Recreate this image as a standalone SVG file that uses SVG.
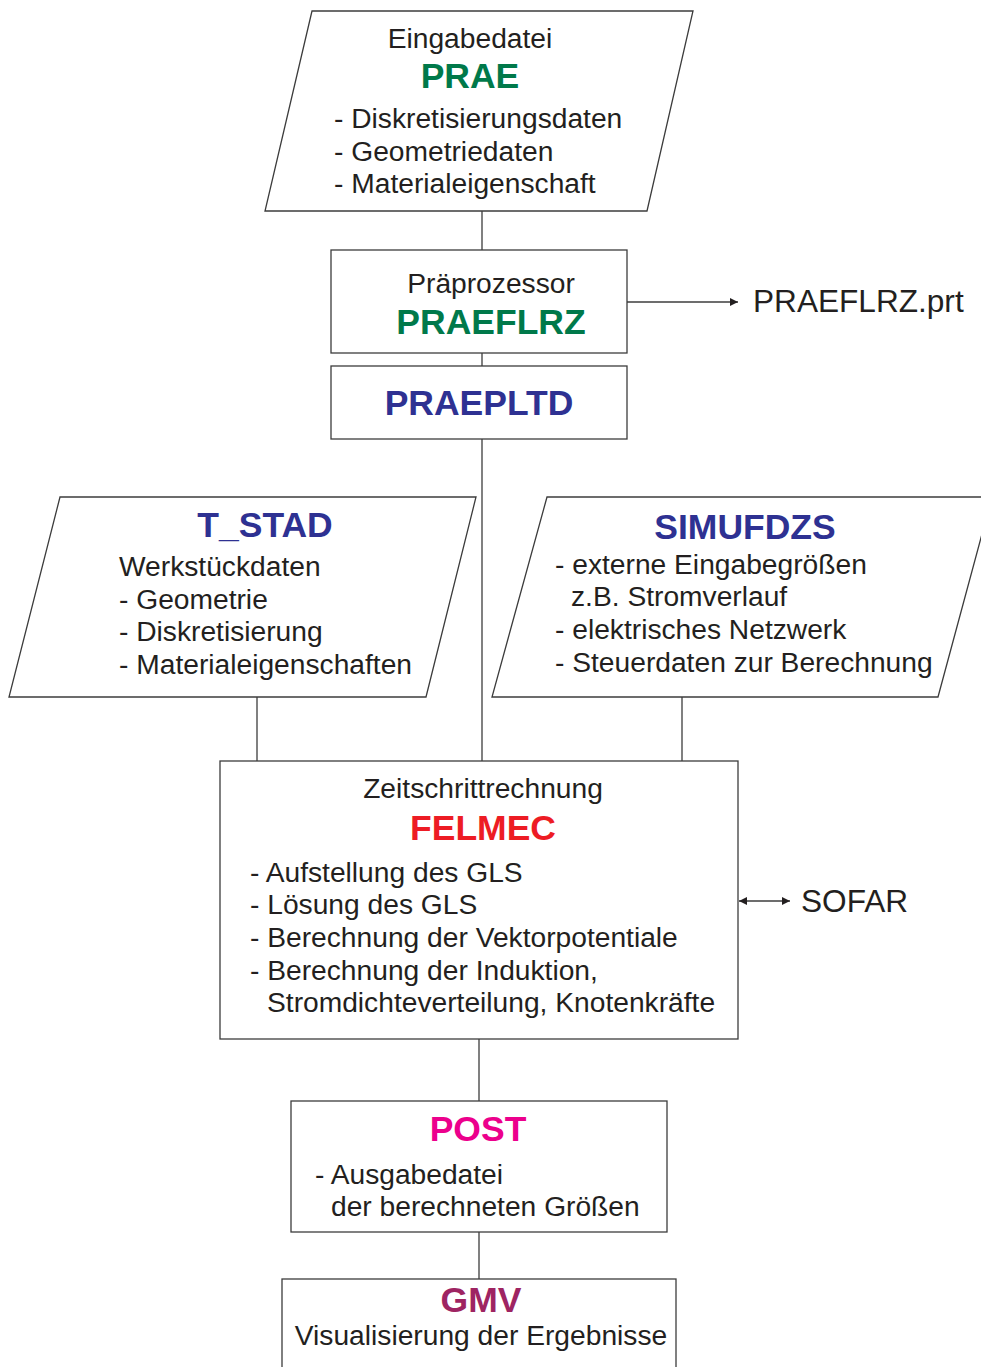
<svg xmlns="http://www.w3.org/2000/svg" width="981" height="1367" viewBox="0 0 981 1367">
  <defs>
    <marker id="arrow" viewBox="0 0 10 10" refX="10" refY="5" markerWidth="8" markerHeight="8" markerUnits="userSpaceOnUse" orient="auto-start-reverse">
      <path d="M0,0 L10,5 L0,10 z" fill="#231f20"/>
    </marker>
    <style>
      .shape { fill: #ffffff; stroke: #3c3c3c; stroke-width: 1.3; }
      .wire { fill: none; stroke: #3c3c3c; stroke-width: 1.3; }
      .txt { font-family: "Liberation Sans", Arial, sans-serif; font-size: 28.2px; fill: #231f20; }
      .side { font-family: "Liberation Sans", Arial, sans-serif; font-size: 31.6px; fill: #231f20; }
      .title { font-family: "Liberation Sans", Arial, sans-serif; font-size: 35.5px; font-weight: bold; text-anchor: middle; }
      .mid { text-anchor: middle; }
      .green { fill: #00794a; }
      .blue { fill: #2e3192; }
      .red { fill: #ed1c24; }
      .magenta { fill: #ec008c; }
      .purple { fill: #9e2462; }
    </style>
  </defs>

  <!-- connectors -->
  <g id="connectors">
    <line class="wire" x1="482" y1="211" x2="482" y2="250"/>
    <line class="wire" x1="482" y1="353" x2="482" y2="366"/>
    <line class="wire" x1="482" y1="439" x2="482" y2="761"/>
    <line class="wire" x1="257" y1="697" x2="257" y2="761"/>
    <line class="wire" x1="682" y1="697" x2="682" y2="761"/>
    <line class="wire" x1="479" y1="1039" x2="479" y2="1101"/>
    <line class="wire" x1="479" y1="1232" x2="479" y2="1279"/>
    <line class="wire" x1="627" y1="302" x2="738" y2="302" marker-end="url(#arrow)"/>
    <line class="wire" x1="739" y1="901" x2="790" y2="901" marker-start="url(#arrow)" marker-end="url(#arrow)"/>
  </g>

  <!-- input file PRAE -->
  <g id="prae">
    <polygon class="shape" points="312,11 693,11 647,211 265,211"/>
    <text class="txt mid" x="470" y="48">Eingabedatei</text>
    <text class="title green" x="470" y="88">PRAE</text>
    <text class="txt" x="334" y="128">- Diskretisierungsdaten</text>
    <text class="txt" x="334" y="161">- Geometriedaten</text>
    <text class="txt" x="334" y="193">- Materialeigenschaft</text>
  </g>

  <!-- preprocessor PRAEFLRZ -->
  <g id="praeflrz">
    <rect class="shape" x="331" y="250" width="296" height="103"/>
    <text class="txt mid" x="491" y="293">Präprozessor</text>
    <text class="title green" x="491" y="334">PRAEFLRZ</text>
  </g>

  <g id="praeflrz-prt">
    <text class="side" x="753" y="312">PRAEFLRZ.prt</text>
  </g>

  <!-- PRAEPLTD -->
  <g id="praepltd">
    <rect class="shape" x="331" y="366" width="296" height="73"/>
    <text class="title blue" x="479" y="415">PRAEPLTD</text>
  </g>

  <!-- workpiece data T_STAD -->
  <g id="t-stad">
    <polygon class="shape" points="60,497 476,497 426,697 9,697"/>
    <text class="title blue" x="265" y="537">T_STAD</text>
    <text class="txt" x="119" y="576">Werkstückdaten</text>
    <text class="txt" x="119" y="609">- Geometrie</text>
    <text class="txt" x="119" y="641">- Diskretisierung</text>
    <text class="txt" x="119" y="674">- Materialeigenschaften</text>
  </g>

  <!-- control data SIMUFDZS -->
  <g id="simufdzs">
    <polygon class="shape" points="547,497 992,497 938,697 492,697"/>
    <text class="title blue" x="745" y="539">SIMUFDZS</text>
    <text class="txt" x="555" y="574">- externe Eingabegrößen</text>
    <text class="txt" x="571" y="606">z.B. Stromverlauf</text>
    <text class="txt" x="555" y="639">- elektrisches Netzwerk</text>
    <text class="txt" x="555" y="672">- Steuerdaten zur Berechnung</text>
  </g>

  <!-- time step solver FELMEC -->
  <g id="felmec">
    <rect class="shape" x="220" y="761" width="518" height="278"/>
    <text class="txt mid" x="483" y="798">Zeitschrittrechnung</text>
    <text class="title red" x="483" y="840">FELMEC</text>
    <text class="txt" x="250" y="882">- Aufstellung des GLS</text>
    <text class="txt" x="250" y="914">- Lösung des GLS</text>
    <text class="txt" x="250" y="947">- Berechnung der Vektorpotentiale</text>
    <text class="txt" x="250" y="980">- Berechnung der Induktion,</text>
    <text class="txt" x="267" y="1012">Stromdichteverteilung, Knotenkräfte</text>
  </g>

  <g id="sofar">
    <text class="side" x="801" y="912">SOFAR</text>
  </g>

  <!-- postprocessor POST -->
  <g id="post">
    <rect class="shape" x="291" y="1101" width="376" height="131"/>
    <text class="title magenta" x="478" y="1141">POST</text>
    <text class="txt" x="315" y="1184">- Ausgabedatei</text>
    <text class="txt" x="331" y="1216">der berechneten Größen</text>
  </g>

  <!-- visualisation GMV -->
  <g id="gmv">
    <rect class="shape" x="282" y="1279" width="394" height="100"/>
    <text class="title purple" x="481" y="1312">GMV</text>
    <text class="txt mid" x="481" y="1345">Visualisierung der Ergebnisse</text>
  </g>
</svg>
